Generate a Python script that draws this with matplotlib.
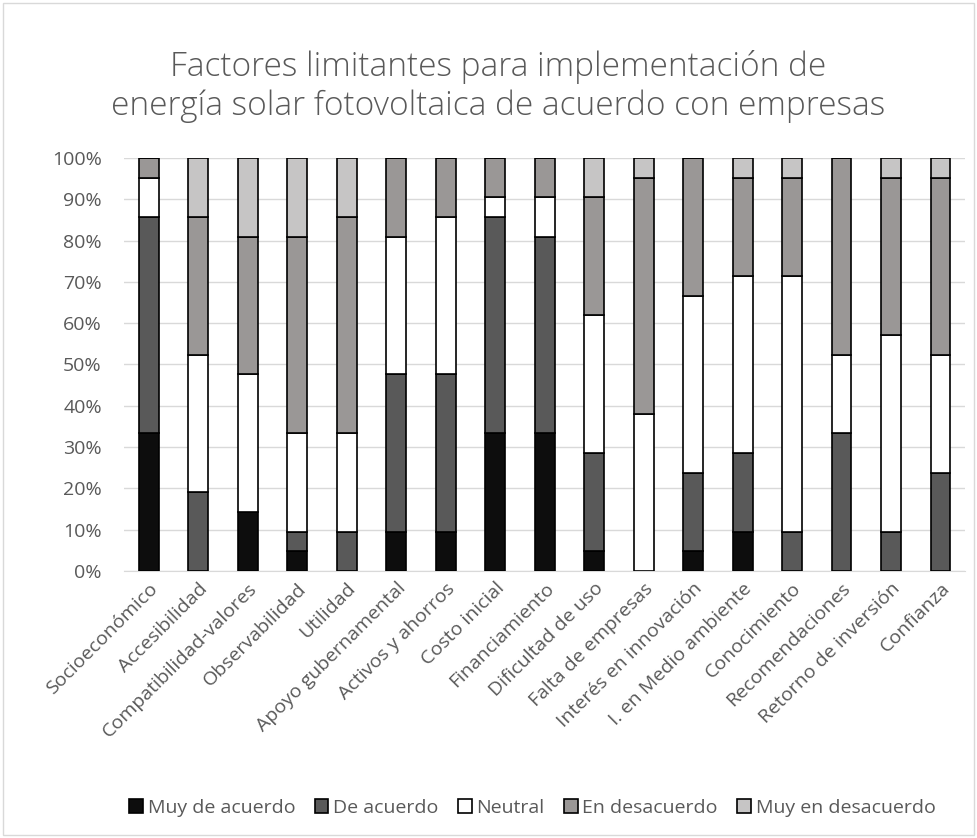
import numpy as np
import matplotlib.pyplot as plt
from matplotlib.ticker import PercentFormatter

plt.rcParams['font.family'] = ['Open Sans', 'DejaVu Sans']

categories = ["Socioeconómico", "Accesibilidad", "Compatibilidad-valores",
              "Observabilidad", "Utilidad", "Apoyo gubernamental",
              "Activos y ahorros", "Costo inicial", "Financiamiento",
              "Dificultad de uso", "Falta de empresas", "Interés en innovación",
              "I. en Medio ambiente", "Conocimiento", "Recomendaciones",
              "Retorno de inversión", "Confianza"]

# response counts (21 companies)
muy_de_acuerdo = [7, 0, 3, 1, 0, 2, 2, 7, 7, 1, 0, 1, 2, 0, 0, 0, 0]
de_acuerdo     = [11, 4, 0, 1, 2, 8, 8, 11, 10, 5, 0, 4, 4, 2, 7, 2, 5]
neutral        = [2, 7, 7, 5, 5, 7, 8, 1, 2, 7, 8, 9, 9, 13, 4, 10, 6]
en_desacuerdo  = [1, 7, 7, 10, 11, 4, 3, 2, 2, 6, 12, 7, 5, 5, 10, 8, 9]
muy_en_desac   = [0, 3, 4, 4, 3, 0, 0, 0, 0, 2, 1, 0, 1, 1, 0, 1, 1]

series = [("Muy de acuerdo", muy_de_acuerdo, "#0d0d0d"),
          ("De acuerdo", de_acuerdo, "#595959"),
          ("Neutral", neutral, "#ffffff"),
          ("En desacuerdo", en_desacuerdo, "#9a9796"),
          ("Muy en desacuerdo", muy_en_desac, "#c6c5c5")]

data = np.array([s[1] for s in series], dtype=float)
pct = data / data.sum(axis=0)

fig = plt.figure(figsize=(9.77, 8.38), dpi=100)
ax = fig.add_axes([0.127, 0.3186, 0.861, 0.493])

x = np.arange(len(categories))
bottom = np.zeros(len(categories))
for (name, _, color), vals in zip(series, pct):
    ax.bar(x, vals, 0.4, bottom=bottom, color=color, edgecolor="black",
           linewidth=1.2, label=name, zorder=3)
    bottom += vals

ax.set_xlim(-0.5, len(categories) - 0.5)
ax.set_ylim(0, 1)
ax.set_yticks(np.arange(0, 1.01, 0.1))
ax.yaxis.set_major_formatter(PercentFormatter(1.0, decimals=0))
ax.grid(axis="y", color="#d9d9d9", linewidth=1, zorder=0)
for s in ["top", "right", "left"]:
    ax.spines[s].set_visible(False)
ax.spines["bottom"].set_color("#d9d9d9")
ax.tick_params(axis="both", length=0, labelsize=14, colors="#595959")
ax.tick_params(axis="y", pad=16)
ax.tick_params(axis="x", pad=6)
ax.set_xticks(x)
ax.set_xticklabels(categories, rotation=45, ha="right", rotation_mode="anchor")

fig.suptitle("Factores limitantes para implementación de\n"
             "energía solar fotovoltaica de acuerdo con empresas",
             x=0.51, y=0.94, fontsize=24, color="#595959", fontweight="light",
             linespacing=1.2)

fig.legend(loc="center", ncol=5, frameon=False, fontsize=14,
           bbox_to_anchor=(0.545, 0.036), handlelength=0.7, handleheight=0.7,
           handletextpad=0.25, columnspacing=1.0, labelcolor="#595959")

border = plt.Rectangle((0.003, 0.003), 0.994, 0.994, transform=fig.transFigure,
                       fill=False, edgecolor="#d9d9d9", linewidth=1)
fig.patches.append(border)

fig.savefig("out.png", dpi=100)
